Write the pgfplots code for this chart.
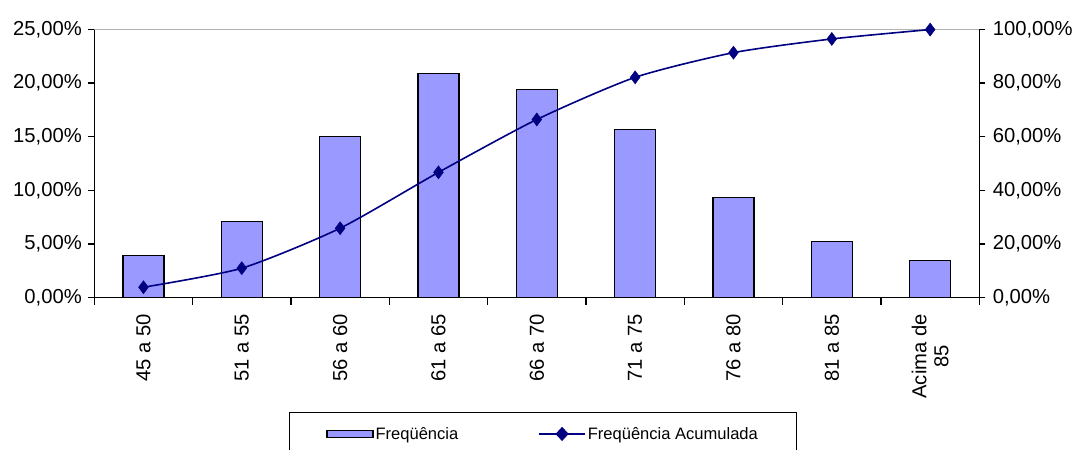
\documentclass[border=0pt]{standalone}
\usepackage{pgfplots}
\pgfplotsset{compat=1.18}
\usepackage{fontspec}
\setmainfont{Liberation Sans}
\definecolor{barfill}{HTML}{9999FF}
\definecolor{linecol}{HTML}{000080}

\begin{document}
\begin{tikzpicture}
% frequencia relativa (%) e acumulada (%)
\pgfplotsset{
  base/.style={
    width=885bp, height=268.4bp, scale only axis,
    xmin=-0.5, xmax=8.5,
    tick align=outside, major tick length=6bp,
    every tick/.style={black, line width=1.1bp},
    axis line style={black, line width=1.4bp},
    ticklabel style={font=\fontsize{20.3}{22}\selectfont},
    /pgf/number format/.cd, fixed, fixed zerofill, precision=2, use comma, assume math mode=true,
  },
}
\begin{axis}[base,
    ymin=0, ymax=25, ytick={0,5,...,25},
    yticklabel={\pgfmathprintnumber{\tick}\%},
    yticklabel style={xshift=-3bp},
    axis x line*=bottom, axis y line*=left,
    xtick={0,...,8},
    xticklabels={45 a 50, 51 a 55, 56 a 60, 61 a 65, 66 a 70, 71 a 75, 76 a 80, 81 a 85, {Acima de\\85}},
    xticklabel style={rotate=90, anchor=east, align=center, xshift=-7bp},
    major x tick style={draw=none},
    minor xtick={-0.5,0.5,...,8.5}, minor tick length=7bp,
    minor x tick style={black, line width=1.1bp},
    ybar, bar width=41bp,
    legend columns=2,
    legend style={at={(0.22,-0.425)}, anchor=north west, draw=black, line width=0.8bp,
      font=\fontsize{16.6}{20}\selectfont, inner xsep=37bp, inner ysep=13bp,
      /tikz/every even column/.append style={column sep=78bp}},
]
\addplot[fill=barfill, draw=black, line width=1.2bp,
  legend image code/.code={\draw[fill=barfill, draw=black, line width=1.2bp] (0bp,-3.5bp) rectangle (46bp,3.5bp);}]
  coordinates {
  (0,3.9) (1,7.1) (2,15.0) (3,20.9) (4,19.4) (5,15.7) (6,9.3) (7,5.2) (8,3.5)
};
\addlegendentry{Freqüência}
\addlegendimage{legend image code/.code={
  \draw[linecol, line width=1.5bp] (0bp,0bp) -- (46bp,0bp);
  \fill[linecol] (23bp,6.5bp) -- (29bp,0bp) -- (23bp,-6.5bp) -- (17bp,0bp) -- cycle;}}
\addlegendentry{Freqüência Acumulada}
\draw[gray!60, line width=1bp] (rel axis cs:0,1) -- (rel axis cs:1,1);
\end{axis}
\begin{axis}[base,
    ymin=0, ymax=100, ytick={0,20,...,100},
    yticklabel={\pgfmathprintnumber{\tick}\%},
    yticklabel style={xshift=4bp},
    axis y line*=right, axis x line=none,
    clip=false,
]
\addplot[linecol, line width=1.6bp, smooth, tension=0.4,
  mark=diamond*, mark size=6.5bp, mark options={fill=linecol, line width=0.5bp}] coordinates {
  (0,3.9) (1,11.0) (2,25.9) (3,46.7) (4,66.4) (5,82.1) (6,91.3) (7,96.4) (8,99.9)
};
\end{axis}
\pgfresetboundingbox
\path (-94.3bp,-152.3bp) rectangle (980.7bp,297.7bp);
\end{tikzpicture}
\end{document}
